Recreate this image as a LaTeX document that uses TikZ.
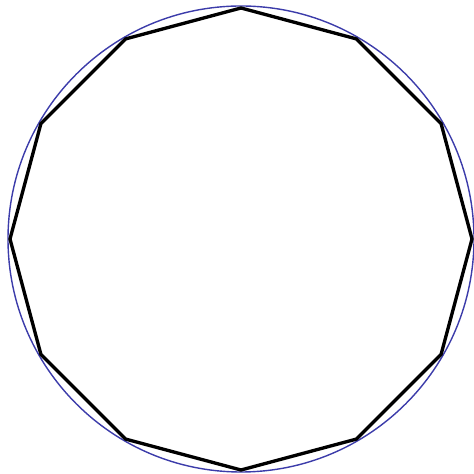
\documentclass[tikz,border=0pt]{standalone}
\usepackage{tikz}
\usetikzlibrary{calc}
\definecolor{ringblue}{RGB}{60, 60, 170}

\begin{document}
\begin{tikzpicture}[
    ring/.style={draw=ringblue, line width=0.4pt},
    edge/.style={draw=black, line width=0.95pt, line join=round}
]
    \useasboundingbox (0,0) rectangle (4.74,4.74);
    \coordinate (c) at (2.41,2.35);

    \draw[ring] (c) circle (2.33);

    % corners of the 12-gon
    \foreach \i in {0,...,11}
        \coordinate (p\i) at ($(c)+(90+30*\i:2.31)$);

    \draw[edge] (p0) -- (p1) -- (p2) -- (p3) -- (p4) -- (p5) -- (p6)
        -- (p7) -- (p8) -- (p9) -- (p10) -- (p11) -- cycle;
\end{tikzpicture}
\end{document}
